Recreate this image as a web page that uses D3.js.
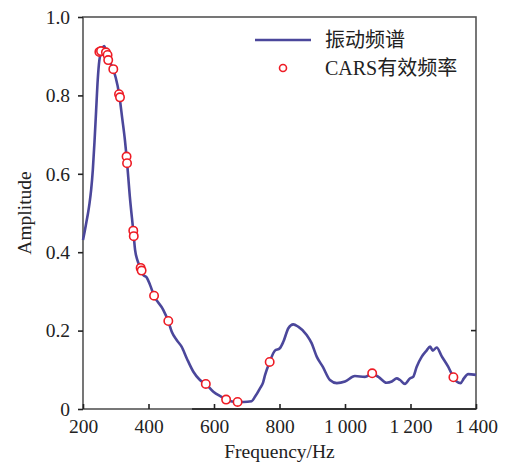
<!DOCTYPE html>
<html lang="zh">
  <head>
    <meta charset="UTF-8" />
    <script src="https://d3js.org/d3.v7.min.js"></script>
    <style>
      body { margin: 0; background: #fff; }
      text { font-family: 'Liberation Serif', 'Noto Sans CJK SC', serif; fill: #222; }
    </style>
  </head>
  <body>
    <script>
      // spectrum curve
      const specFreq = [200, 205, 210, 215, 220, 225, 230, 235, 240, 245, 250, 255, 265, 270, 275, 280, 292, 300, 310, 320, 328, 333, 343, 354, 359, 366, 376, 384, 395, 405, 417, 445, 460, 471, 486, 501, 517, 537, 557, 575, 598, 623, 638, 655, 672, 690, 715, 725, 740, 750, 756, 770, 786, 801, 812, 827, 842, 857, 883, 898, 914, 932, 954, 975, 1000, 1030, 1061, 1083, 1102, 1127, 1143, 1158, 1168, 1183, 1198, 1208, 1219, 1234, 1249, 1260, 1268, 1280, 1295, 1315, 1331, 1341, 1353, 1363, 1376, 1400]
      const specAmp = [0.431, 0.452, 0.475, 0.498, 0.525, 0.56, 0.61, 0.68, 0.76, 0.84, 0.89, 0.91, 0.926, 0.915, 0.903, 0.89, 0.867, 0.845, 0.805, 0.74, 0.686, 0.644, 0.542, 0.45, 0.406, 0.38, 0.36, 0.342, 0.335, 0.316, 0.289, 0.253, 0.225, 0.197, 0.176, 0.159, 0.129, 0.095, 0.074, 0.064, 0.044, 0.031, 0.024, 0.019, 0.018, 0.018, 0.02, 0.031, 0.052, 0.068, 0.087, 0.12, 0.149, 0.155, 0.172, 0.206, 0.216, 0.21, 0.189, 0.168, 0.133, 0.108, 0.074, 0.066, 0.07, 0.084, 0.082, 0.09, 0.082, 0.067, 0.07, 0.078, 0.074, 0.064, 0.078, 0.082, 0.108, 0.133, 0.149, 0.159, 0.149, 0.157, 0.135, 0.108, 0.081, 0.07, 0.066, 0.078, 0.089, 0.087]

      // CARS selected frequencies
      const carsFreq = [250, 255, 270, 275, 277, 292.5, 310, 313, 333, 334.5, 353.5, 355, 376, 379, 417, 460.5, 575, 637, 672, 770, 1083, 1331]
      const carsAmp = [0.911, 0.913, 0.910, 0.903, 0.890, 0.867, 0.803, 0.795, 0.644, 0.627, 0.455, 0.441, 0.360, 0.353, 0.289, 0.2245, 0.064, 0.024, 0.018, 0.12, 0.091, 0.081]

      const xTicks = [200, 400, 600, 800, 1000, 1200, 1400]
      const yTicks = [0, 0.2, 0.4, 0.6, 0.8, 1.0]
      const legendLabels = ['振动频谱', 'CARS有效频率']

      const width = 505
      const height = 468
      const lineColor = '#4b479b'
      const frameColor = '#555'

      const svg = d3.select('body')
        .append('svg')
        .attr('width', width)
        .attr('height', height)

      const x = d3.scaleLinear().domain([200, 1400]).range([83, 476])
      const y = d3.scaleLinear().domain([0, 1]).range([409, 17])

      const fmtX = d => d >= 1000 ? Math.floor(d / 1000) + '\u2009' + d3.format('03d')(d % 1000) : String(d)
      const fmtY = d => d === 0 ? '0' : d3.format('.1f')(d)

      // frame
      svg.append('rect')
        .attr('x', x(200)).attr('y', y(1))
        .attr('width', x(1400) - x(200)).attr('height', y(0) - y(1))
        .attr('fill', 'none').attr('stroke', frameColor).attr('stroke-width', 1.6)
      // darker run on bottom edge
      svg.append('line')
        .attr('x1', x(533)).attr('x2', x(1400))
        .attr('y1', y(0)).attr('y2', y(0))
        .attr('stroke', '#333').attr('stroke-width', 2)

      // left axis (ticks outward)
      const yAxis = svg.append('g')
        .attr('transform', `translate(${x(200)},0)`)
        .call(d3.axisLeft(y).tickValues(yTicks).tickFormat(fmtY).tickSize(5).tickPadding(8))
      yAxis.select('.domain').remove()
      yAxis.selectAll('line').attr('stroke', '#222').attr('stroke-width', 1.6)
      yAxis.selectAll('text').attr('font-size', 19.5).attr('fill', '#222')
        .style('font-family', "'Liberation Serif', serif")

      // bottom axis (ticks inward)
      const xAxis = svg.append('g')
        .attr('transform', `translate(0,${y(0)})`)
        .call(d3.axisBottom(x).tickValues(xTicks).tickFormat(fmtX).tickSizeInner(-5).tickSizeOuter(0).tickPadding(10))
      xAxis.select('.domain').remove()
      xAxis.selectAll('line').attr('stroke', '#222').attr('stroke-width', 1.6)
      xAxis.selectAll('text').attr('font-size', 19.5).attr('fill', '#222')
        .style('font-family', "'Liberation Serif', serif")

      // lone tick on right edge
      svg.append('line')
        .attr('x1', x(1400) - 5).attr('x2', x(1400))
        .attr('y1', y(0.2)).attr('y2', y(0.2))
        .attr('stroke', '#222').attr('stroke-width', 1.6)

      // axis titles
      svg.append('text')
        .attr('transform', `translate(31,${(y(0) + y(1)) / 2}) rotate(-90)`)
        .attr('text-anchor', 'middle')
        .attr('font-size', 19.5)
        .text('Amplitude')
      svg.append('text')
        .attr('x', (x(200) + x(1400)) / 2)
        .attr('y', 458)
        .attr('text-anchor', 'middle')
        .attr('font-size', 19.5)
        .text('Frequency/Hz')

      // spectrum
      const spec = specFreq.map((f, i) => [f, specAmp[i]])
      svg.append('path')
        .datum(spec)
        .attr('fill', 'none')
        .attr('stroke', lineColor)
        .attr('stroke-width', 2.6)
        .attr('stroke-linejoin', 'round')
        .attr('d', d3.line().x(d => x(d[0])).y(d => y(d[1])).curve(d3.curveMonotoneX))

      // CARS points
      const cars = carsFreq.map((f, i) => [f, carsAmp[i]])
      svg.append('g')
        .selectAll('circle')
        .data(cars)
        .join('circle')
        .attr('cx', d => x(d[0]))
        .attr('cy', d => y(d[1]))
        .attr('r', 4.2)
        .attr('fill', '#fff')
        .attr('stroke', '#ee1c25')
        .attr('stroke-width', 1.6)

      // legend
      const lg = svg.append('g')
      lg.append('line')
        .attr('x1', 255).attr('x2', 311).attr('y1', 40).attr('y2', 40)
        .attr('stroke', lineColor).attr('stroke-width', 2.6)
      lg.append('circle')
        .attr('cx', 283).attr('cy', 68).attr('r', 3.5)
        .attr('fill', '#fff').attr('stroke', '#ee1c25').attr('stroke-width', 1.6)
      lg.selectAll('text.lab')
        .data(legendLabels)
        .join('text')
        .attr('class', 'lab')
        .attr('x', 325)
        .attr('y', (d, i) => 47 + i * 27.5)
        .attr('font-size', 20)
        .text(d => d)
    </script>
  </body>
</html>
